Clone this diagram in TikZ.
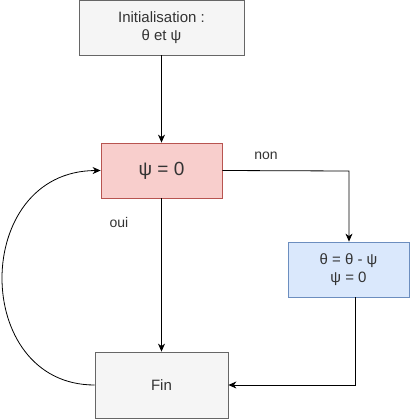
\documentclass[tikz,border=0pt]{standalone}
\usepackage{fontspec}
\setmainfont{Liberation Sans}
\usetikzlibrary{arrows.meta}
\definecolor{txt}{HTML}{333333}
\definecolor{greyfill}{HTML}{F5F5F5}
\definecolor{greyline}{HTML}{666666}
\definecolor{redfill}{HTML}{F8CECC}
\definecolor{redline}{HTML}{B85450}
\definecolor{bluefill}{HTML}{DAE8FC}
\definecolor{blueline}{HTML}{6C8EBF}
\begin{document}
\begin{tikzpicture}[x=1pt,y=-1pt,
  box/.style={draw, line width=0.8pt, inner sep=0pt, text=txt, align=center, font=\fontsize{15}{18}\selectfont},
  greybox/.style={box, fill=greyfill, draw=greyline},
  redbox/.style={box, fill=redfill, draw=redline},
  bluebox/.style={box, fill=bluefill, draw=blueline},
  conn/.style={draw=black, line width=0.8pt, -{Stealth[length=8pt,width=7pt,inset=2.5pt]}},
  lbl/.style={text=txt, font=\fontsize{14}{16}\selectfont}]
\useasboundingbox (0,0) rectangle (411,420);
\node[greybox, minimum width=165pt, minimum height=55pt] (init) at (161.5,27.5) {Initialisation :\\θ et ψ};
\node[redbox, minimum width=121pt, minimum height=55pt, font=\fontsize{19}{21}\selectfont] (psi) at (161.5,170.5) {ψ = 0};
\node[bluebox, minimum width=121pt, minimum height=55pt] (upd) at (348.5,269.5) {θ = θ - ψ\\ψ = 0};
\node[greybox, minimum width=133pt, minimum height=66pt] (fin) at (161.5,385) {Fin};
\coordinate (c1) at (349,171);
\coordinate (c2) at (355,385);
\draw[conn] (init) -- (psi);
\draw[conn] (psi) -- (fin);
\draw[conn] (psi.east) -- (c1) -- (upd.north -| c1);
\draw[conn] (upd.south -| c2) -- (c2) -- (fin.east);
\draw[conn] (fin.west) .. controls (-29,385) and (-29,171) .. (psi.west);
\node[lbl] (non) at (266,156) {non};
\node[lbl] (oui) at (119,222) {oui};
\end{tikzpicture}
\end{document}
